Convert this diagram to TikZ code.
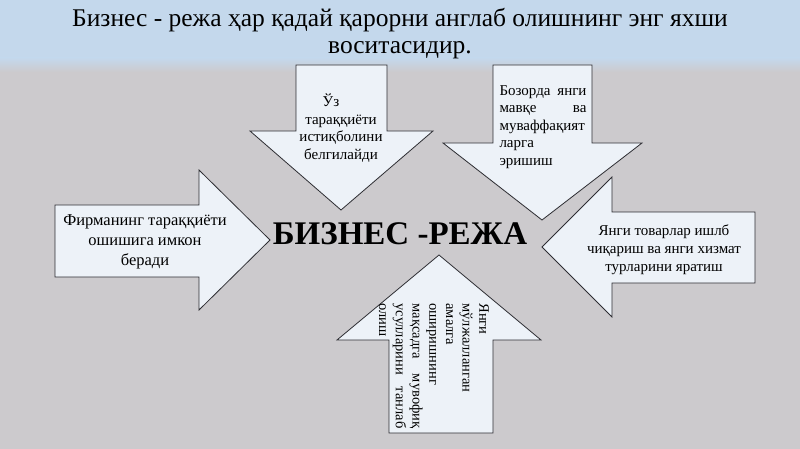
\documentclass[tikz,border=0pt]{standalone}
\usepackage{fontspec}
\setmainfont{Liberation Serif}
\usepackage{tikz}
\usetikzlibrary{calc}

\definecolor{bggrey}{RGB}{204,202,205}
\definecolor{titleblue}{RGB}{196,216,236}
\definecolor{arrowfill}{RGB}{237,242,248}
\definecolor{edgegrey}{RGB}{45,45,50}

\begin{document}
\begin{tikzpicture}[
        x=1pt, y=-1pt,
        big arrow/.style={draw=edgegrey, line width=0.8pt, fill=arrowfill, line join=miter},
        arrow text/.style={inner sep=0pt, color=black},
        every node/.style={color=black}
    ]
    \useasboundingbox (0,0) rectangle (800,449);
    \fill[bggrey] (0,0) rectangle (800,449);
    \fill[titleblue] (0,0) rectangle (800,58);
    \shade[top color=titleblue, bottom color=bggrey] (0,58) rectangle (800,72);

    \draw (400,34) node(title)[align=center, font=\fontsize{25.5}{27}\selectfont]
        {Бизнес - режа ҳар қадай қарорни англаб олишнинг энг яхши\\воситасидир.};

    % the five arrows
    \draw[big arrow] (296,65) -- (387,65) -- (387,131) -- (433,131) -- (341,210)
        -- (250,131) -- (296,131) -- cycle;
    \draw[big arrow] (493,65) -- (592,65) -- (592,143) -- (642,143) -- (542,220)
        -- (443,143) -- (493,143) -- cycle;
    \draw[big arrow] (55,205) -- (199,205) -- (199,170) -- (270,240) -- (199,310)
        -- (199,277) -- (55,277) -- cycle;
    \draw[big arrow] (755,212) -- (612,212) -- (612,177) -- (542,247) -- (612,317)
        -- (612,283) -- (755,283) -- cycle;
    \draw[big arrow] (389,433) -- (389,340) -- (337,340) -- (439,255) -- (541,340)
        -- (493,340) -- (493,433) -- cycle;

    \draw (400,234) node(main)[font=\fontsize{33}{36}\selectfont\bfseries]{БИЗНЕС -РЕЖА};

    \draw (341,128) node(goal)[arrow text, align=center, font=\fontsize{15}{17.5}\selectfont]
        {Ўз\hspace*{20pt}\\тараққиёти\\истиқболини\\белгилайди};

    \draw (543,127) node(market)[arrow text, text width=87pt, align=left,
        font=\fontsize{15}{17.5}\selectfont]
        {Бозорда\hfill янги\\мавқе\hfill ва\\муваффақият\\ларга\\эришиш};

    \draw (145,242) node(growth)[arrow text, align=center, font=\fontsize{16.5}{20}\selectfont]
        {Фирманинг тараққиёти\\ошишига имкон\\беради};

    \draw (664,250) node(goods)[arrow text, align=center, font=\fontsize{15}{18}\selectfont]
        {Янги товарлар ишлб\\чиқариш ва янги хизмат\\турларини яратиш};

    \draw (434,366) node(method)[arrow text, rotate=-90, text width=125pt, align=left,
        font=\fontsize{14.5}{16.7}\selectfont]
        {Янги\\мўлжалланган\\амалга\\оширишнинг\\мақсадга\hfill мувофиқ\\усулларини\hfill танлаб\\олиш};

\end{tikzpicture}
\end{document}
